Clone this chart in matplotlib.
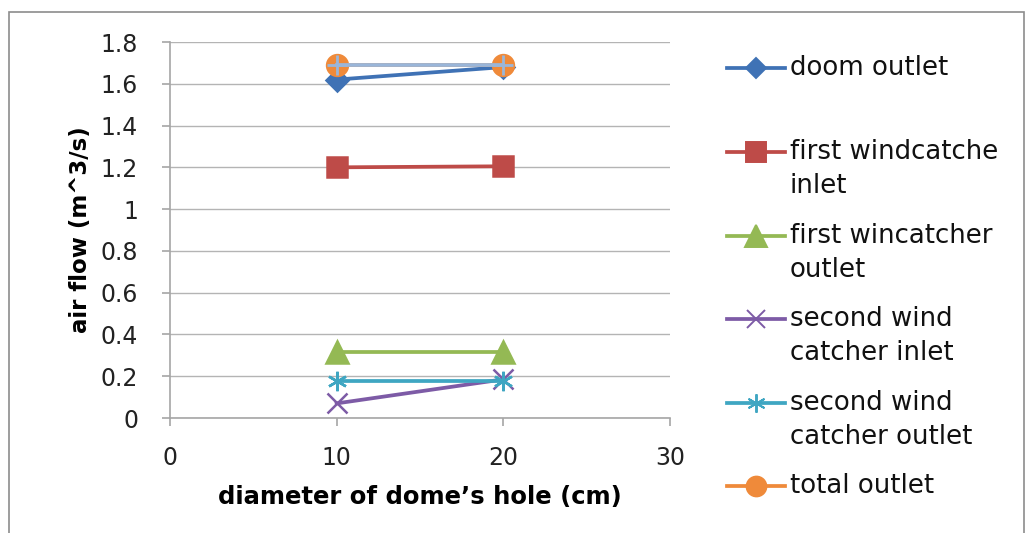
import matplotlib
matplotlib.use('Agg')
import matplotlib.pyplot as plt
from matplotlib.lines import Line2D
from matplotlib.patches import Rectangle

plt.rcParams['font.family'] = ['DejaVu Sans']

# data
diameters = [10, 20]
doom_outlet = [1.62, 1.68]
first_inlet = [1.20, 1.205]
first_outlet = [0.315, 0.315]
second_inlet = [0.07, 0.185]
second_outlet = [0.175, 0.175]
total_outlet = [1.69, 1.69]
extra_series = [1.69, 1.69]   # light blue line drawn over total outlet, not in legend

labels = [['doom outlet'],
          ['first windcatche', 'inlet'],
          ['first wincatcher', 'outlet'],
          ['second wind', 'catcher inlet'],
          ['second wind', 'catcher outlet'],
          ['total outlet']]
yticks = [0, 0.2, 0.4, 0.6, 0.8, 1, 1.2, 1.4, 1.6, 1.8]
ytick_labels = ['0', '0.2', '0.4', '0.6', '0.8', '1', '1.2', '1.4', '1.6', '1.8']
xticks = [0, 10, 20, 30]

series = [doom_outlet, first_inlet, first_outlet, second_inlet, second_outlet, total_outlet]
colors = ['#3F72B5', '#BE4B48', '#94B954', '#7D5BA6', '#3FA6C2', '#EF8A3A']
markers = ['D', 's', '^', 'x', (6, 2, 0), 'o']
msizes = [11, 15, 16, 14, 14, 15]

W, H = 1031, 533
fig = plt.figure(figsize=(W / 100, H / 100), dpi=100)
ax = fig.add_axes([170 / W, 1 - 418 / H, 500 / W, 376 / H])

for vals, c, m, ms in zip(series, colors, markers, msizes):
    ax.plot(diameters, vals, color=c, lw=2.7, marker=m, ms=ms, mew=1.8,
            mec=c, mfc=c, zorder=3)
ax.plot(diameters, extra_series, color='#9AB6D9', lw=2.7, marker='+', ms=14,
        mew=2, zorder=4)

ax.set_xlim(0, 30)
ax.set_ylim(0, 1.8)
ax.set_xticks(xticks)
ax.set_yticks(yticks)
ax.set_yticklabels(ytick_labels)
ax.grid(axis='y', color='#B4B4B4', lw=1)
ax.set_axisbelow(True)
for s in ['top', 'right']:
    ax.spines[s].set_visible(False)
for s in ['left', 'bottom']:
    ax.spines[s].set_color('#A6A6A6')
    ax.spines[s].set_linewidth(1.2)
ax.tick_params(axis='both', colors='#A6A6A6', length=6, width=1.2,
               labelcolor='#222222', labelsize=17)
ax.tick_params(axis='y', pad=17)
ax.tick_params(axis='x', pad=14)

ax.set_ylabel('air flow (m^3/s)', fontsize=16.5, fontweight='bold', labelpad=6)
ax.set_xlabel('diameter of dome\u2019s hole (cm)', fontsize=17.5, fontweight='bold',
              labelpad=11)

# legend, Excel-like: handle aligned with first line of each label
row_y = [68, 152, 236, 319, 403, 486]
for lab, c, m, ms, yp in zip(labels, colors, markers, msizes, row_y):
    yf = 1 - yp / H
    fig.add_artist(Line2D([727 / W, 785 / W], [yf, yf], color=c, lw=2.7))
    fig.add_artist(Line2D([756 / W], [yf], color=c, marker=m, ms=ms * 0.95,
                          mew=1.4, mec=c, mfc=c))
    for k, line in enumerate(lab):
        fig.text(790 / W, 1 - (yp + 34 * k) / H, line, fontsize=18.7,
                 color='#111111', va='center', ha='left')

fig.add_artist(Rectangle((9 / W, -0.02), 1015 / W, 1 - 12 / H + 0.02,
                         transform=fig.transFigure, fill=False,
                         edgecolor='#8C8C8C', lw=1.2))

fig.savefig('out.png', dpi=100)
